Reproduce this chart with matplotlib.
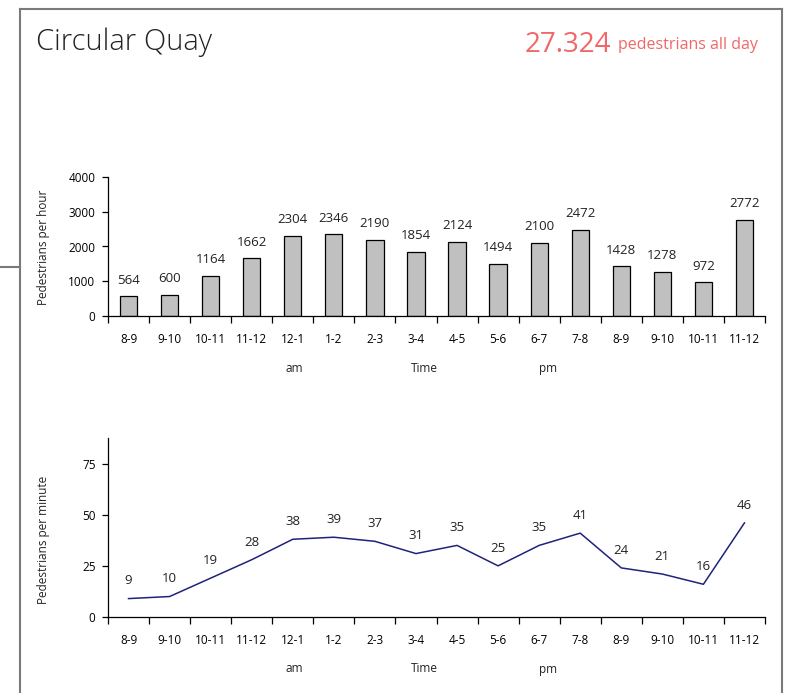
import matplotlib
matplotlib.use("Agg")
import matplotlib.pyplot as plt
from matplotlib.lines import Line2D
import numpy as np

plt.rcParams['font.family'] = ['Open Sans', 'DejaVu Sans']

hours = ["8-9", "9-10", "10-11", "11-12", "12-1", "1-2", "2-3", "3-4",
         "4-5", "5-6", "6-7", "7-8", "8-9", "9-10", "10-11", "11-12"]
per_hour = [564, 600, 1164, 1662, 2304, 2346, 2190, 1854,
            2124, 1494, 2100, 2472, 1428, 1278, 972, 2772]
per_minute = [9, 10, 19, 28, 38, 39, 37, 31, 35, 25, 35, 41, 24, 21, 16, 46]
title = "Circular Quay"
total_text = "27.324"
total_suffix = "pedestrians all day"

W, H = 791, 693
fig = plt.figure(figsize=(W / 100, H / 100), dpi=100)

def fx(px):
    return px / W

def fy(py):
    return 1 - py / H

# frame lines
fc = "#7a7a7a"
for xs, ys in [((20, 20), (9, H)), ((20, 782), (9, 9)), ((782, 782), (9, H)), ((0, 20), (267, 267))]:
    fig.add_artist(Line2D([fx(x) for x in xs], [fy(y) for y in ys], color=fc, lw=1.5,
                          transform=fig.transFigure))

fig.text(fx(36), fy(42), title, fontsize=21, color="#222222", va="center", ha="left",
         fontweight="light")
fig.text(fx(611), fy(45), total_text, fontsize=20, color="#f06868", va="center", ha="right")
fig.text(fx(618), fy(45), total_suffix, fontsize=11.5, color="#f06868", va="center", ha="left")

x = np.arange(len(hours))
tick_fs = 8.5
lab_fs = 9.5

def style_axis(ax):
    for s in ["top", "right"]:
        ax.spines[s].set_visible(False)
    for s in ["left", "bottom"]:
        ax.spines[s].set_color("black")
        ax.spines[s].set_linewidth(0.9)
    ax.set_xlim(-0.5, len(hours) - 0.5)
    ax.set_xticks(np.arange(-0.5, len(hours)), minor=False)
    ax.set_xticklabels([])
    ax.set_xticks(x, minor=True)
    ax.set_xticklabels(hours, minor=True, fontsize=tick_fs)
    ax.tick_params(axis="x", which="major", direction="out", length=5, width=0.9)
    ax.tick_params(axis="x", which="minor", length=0, pad=12)
    ax.tick_params(axis="y", direction="out", length=4, width=0.9, labelsize=tick_fs, pad=5)

# Bar chart
ax1 = fig.add_axes([fx(108), fy(316), fx(765 - 108), fy(177) - fy(316)])
ax1.bar(x, per_hour, width=0.42, color="#c0c0c0", edgecolor="black", linewidth=0.9)
ax1.set_ylim(0, 4000)
ax1.set_yticks([0, 1000, 2000, 3000, 4000])
style_axis(ax1)
for xi, v in zip(x, per_hour):
    ax1.annotate(f"{v}", (xi, v), xytext=(0, 7), textcoords="offset points",
                 ha="center", va="bottom", fontsize=lab_fs, color="#222222")
fig.text(fx(44), fy(247), "Pedestrians per hour", rotation=90, fontsize=8.5,
         va="center", ha="center", color="#222222")
for lx, t in [(294, "am"), (424, "Time"), (548, "pm")]:
    fig.text(fx(lx), fy(368), t, fontsize=8.5, ha="center", va="center", color="#222222")

# Line chart
ax2 = fig.add_axes([fx(108), fy(617), fx(765 - 108), fy(438) - fy(617)])
ax2.plot(x, per_minute, color="#1f237a", lw=1.1)
ax2.set_ylim(0, 87.5)
ax2.set_yticks([0, 25, 50, 75])
style_axis(ax2)
for xi, v in zip(x, per_minute):
    ax2.annotate(f"{v}", (xi, v), xytext=(0, 8), textcoords="offset points",
                 ha="center", va="bottom", fontsize=lab_fs, color="#222222")
fig.text(fx(44), fy(540), "Pedestrians per minute", rotation=90, fontsize=8.5,
         va="center", ha="center", color="#222222")
for lx, t in [(294, "am"), (424, "Time"), (548, "pm")]:
    fig.text(fx(lx), fy(669), t, fontsize=8.5, ha="center", va="center", color="#222222")

fig.savefig("out.png", dpi=100, facecolor="white")
